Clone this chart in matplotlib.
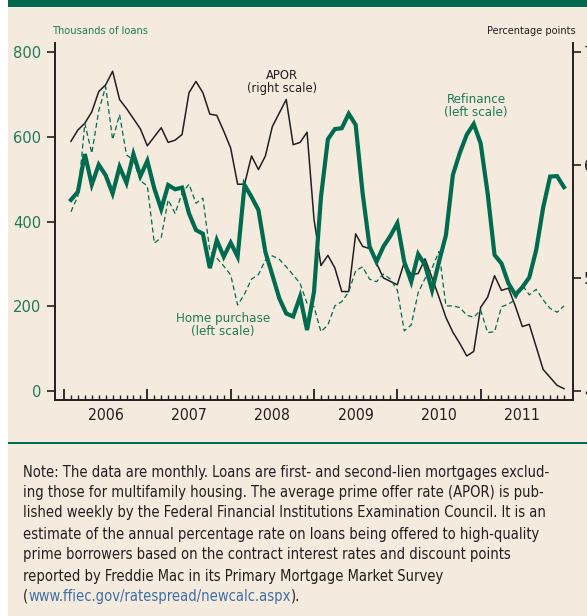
import numpy as np
import matplotlib
matplotlib.use("Agg")
import matplotlib.pyplot as plt
from matplotlib import font_manager as fm
from matplotlib.patches import Rectangle
from matplotlib.transforms import blended_transform_factory

# ---------------- data (monthly, Jan 2006 - Dec 2011) ----------------
start_year = 2006
n_months = 72

refinance = [451, 470, 559, 487, 534, 509, 466, 529, 491, 559, 507, 543,
             478, 429, 486, 476, 480, 419, 380, 371, 290, 356, 317, 350,
             317, 486, 458, 427, 328, 274, 219, 183, 176, 223, 144, 234,
             457, 594, 618, 620, 654, 628, 467, 341, 305, 341, 366, 396,
             305, 258, 323, 297, 238, 305, 368, 510, 562, 605, 630, 584,
             467, 321, 301, 254, 227, 245, 268, 333, 433, 506, 507, 481]

home_purchase = [423, 460, 631, 561, 661, 718, 593, 652, 557, 545, 496, 484,
                 349, 362, 451, 419, 467, 488, 443, 455, 330, 314, 295, 274,
                 203, 229, 264, 275, 309, 319, 311, 293, 274, 254, 207, 199,
                 140, 156, 201, 211, 234, 284, 293, 264, 258, 276, 264, 238,
                 142, 156, 232, 266, 290, 329, 201, 201, 197, 179, 174, 191,
                 138, 140, 199, 205, 216, 250, 227, 240, 215, 195, 186, 201]

apor = [6.21, 6.31, 6.37, 6.47, 6.65, 6.71, 6.83, 6.58, 6.50, 6.41, 6.32, 6.17,
        6.25, 6.33, 6.20, 6.22, 6.27, 6.64, 6.74, 6.64, 6.45, 6.44, 6.30, 6.15,
        5.83, 5.83, 6.08, 5.96, 6.08, 6.34, 6.46, 6.58, 6.18, 6.20, 6.29, 5.52,
        5.11, 5.20, 5.09, 4.88, 4.88, 5.39, 5.28, 5.26, 5.13, 5.00, 4.97, 4.94,
        5.14, 5.03, 5.04, 5.17, 5.00, 4.83, 4.65, 4.52, 4.42, 4.31, 4.35, 4.74,
        4.83, 5.02, 4.89, 4.91, 4.75, 4.57, 4.59, 4.39, 4.19, 4.12, 4.05, 4.02]

year_labels = ["2006", "2007", "2008", "2009", "2010", "2011"]
left_ticks = [0, 200, 400, 600, 800]
right_ticks = [4, 5, 6, 7]

note_lines = [
    "Note: The data are monthly. Loans are first- and second-lien mortgages exclud-",
    "ing those for multifamily housing. The average prime offer rate (APOR) is pub-",
    "lished weekly by the Federal Financial Institutions Examination Council. It is an",
    "estimate of the annual percentage rate on loans being offered to high-quality",
    "prime borrowers based on the contract interest rates and discount points",
    "reported by Freddie Mac in its Primary Mortgage Market Survey",
]
url_text = "www.ffiec.gov/ratespread/newcalc.aspx"

# ---------------- font: prefer a condensed sans if one is installed ----------------
def _is_regular(f):
    return f.style == "normal" and str(f.weight).lower() in ("400", "normal", "regular", "book")

family = None
for f in fm.fontManager.ttflist:
    if f.name == "Liberation Sans Narrow" and _is_regular(f):
        family = "Liberation Sans Narrow"
        break
if family is None:
    for f in fm.fontManager.ttflist:
        if f.name == "DejaVu Sans" and f.stretch == "condensed" and _is_regular(f):
            family = "DejaVu Sans"
            break
if family is None:
    family = "Liberation Sans"
plt.rcParams["font.family"] = [family, "Liberation Sans", "DejaVu Sans"]
plt.rcParams["font.stretch"] = "condensed"

BG = "#f4ebde"
GREEN = "#006b4f"
GREEN_TXT = "#1f7a58"
DARK = "#231f20"
BLUE = "#3f6fa6"

W, H = 587, 616
fig = plt.figure(figsize=(W / 100, H / 100), dpi=100)
fig.patch.set_facecolor("white")
renderer = fig.canvas.get_renderer()

def px(x, y):
    return x / W, 1 - y / H

def fit(t, target):
    w = t.get_window_extent(renderer).width
    t.set_fontsize(t.get_fontsize() * target / w)
    return t.get_fontsize()

# background panels
fig.add_artist(Rectangle((8 / W, 0), 1 - 8 / W, 1, transform=fig.transFigure,
                         facecolor=BG, edgecolor="none", zorder=-10))
fig.add_artist(Rectangle((8 / W, 1 - 7 / H), 1 - 8 / W, 7 / H, transform=fig.transFigure,
                         facecolor=GREEN, edgecolor="none", zorder=-9))
fig.add_artist(Rectangle((8 / W, 1 - 444 / H), 1 - 8 / W, 2.2 / H, transform=fig.transFigure,
                         facecolor=GREEN, edgecolor="none", zorder=-9))

# axes
left, right, bottom, top = 55, 573, 400, 43
ax = fig.add_axes([left / W, 1 - bottom / H, (right - left) / W, (bottom - top) / H])
ax2 = ax.twinx()
ax.set_zorder(ax2.get_zorder() + 1)
ax.patch.set_visible(False)
ax2.patch.set_visible(False)

x = start_year + np.arange(1, n_months + 1) / 12.0

ax.plot(x, home_purchase, color=GREEN, lw=0.9, dashes=(4, 2.5), zorder=2)
ax.plot(x, refinance, color=GREEN, lw=3.0, solid_joinstyle="miter", zorder=3)
ax2.plot(x, apor, color=DARK, lw=1.1, zorder=2)

ax.set_xlim(start_year - 9 / 83.3, start_year + 6 + 9 / 83.3)
ax.set_ylim(-21, 821)
ax2.set_ylim(3.92, 7.08)

for a in (ax, ax2):
    a.spines["top"].set_visible(False)
    for s in ("left", "right", "bottom"):
        a.spines[s].set_color(DARK)
        a.spines[s].set_linewidth(1.2)

# x ticks: inward, major at years, minor monthly
ax.set_xticks(np.arange(start_year, start_year + 6))
ax.set_xticks(start_year + np.arange(0, 73) / 12.0, minor=True)
ax.tick_params(axis="x", which="major", direction="in", length=8, width=1.3,
               color=DARK, labelbottom=False)
ax.tick_params(axis="x", which="minor", direction="in", length=3.5, width=1.0,
               color=DARK)
ax2.tick_params(axis="x", which="both", length=0)

ax.set_yticks(left_ticks)
ax.tick_params(axis="y", direction="out", length=6, width=1.2, color=DARK,
               labelcolor=GREEN_TXT, labelsize=13.5, pad=4.0)
ax2.set_yticks(right_ticks)
ax2.tick_params(axis="y", direction="out", length=6, width=1.2, color=DARK,
                labelcolor=DARK, labelsize=13.5, pad=2.0)

fig.canvas.draw()
lab800 = ax.get_yticklabels()[-1]
w800 = lab800.get_window_extent(renderer).width
tick_fs = min(13.5 * 28.0 / w800, 15.0)
ax.tick_params(axis="y", labelsize=tick_fs)
ax2.tick_params(axis="y", labelsize=tick_fs)

trans = blended_transform_factory(ax.transData, fig.transFigure)
ytexts = []
for i, lab in enumerate(year_labels):
    ytexts.append(ax.text(start_year + i + 0.5, 1 - 415 / H, lab, transform=trans,
                          ha="center", va="center", fontsize=13.5, color=DARK))
yfs = min(fit(ytexts[0], 36.0), 15.0)
for t in ytexts:
    t.set_fontsize(yfs)

# axis titles
fit(fig.text(*px(52, 31), "Thousands of loans", ha="left", va="center",
             fontsize=8.5, color=GREEN_TXT), 96)
fit(fig.text(*px(576, 31), "Percentage points", ha="right", va="center",
             fontsize=8.5, color=DARK), 89)

# series labels
fit(fig.text(*px(282, 82), "APOR\n(right scale)", ha="center", va="center",
             fontsize=10.5, color=DARK, linespacing=1.05), 71)
fit(fig.text(*px(476, 106), "Refinance\n(left scale)", ha="center", va="center",
             fontsize=10.5, color=GREEN_TXT, linespacing=1.05), 64)
fit(fig.text(*px(223, 325), "Home purchase\n(left scale)", ha="center", va="center",
             fontsize=10.5, color=GREEN_TXT, linespacing=1.05), 95)

# note text, fitted to reference width
probe = fig.text(0, 0, note_lines[0], fontsize=11.0)
fs = fit(probe, 525.0)
probe.remove()

line_y = [472, 492, 513, 534, 555, 576, 596]
for ln, yy in zip(note_lines, line_y):
    fig.text(*px(23, yy), ln, ha="left", va="center", fontsize=fs, color=DARK)

t1 = fig.text(*px(23, line_y[6]), "(", ha="left", va="center", fontsize=fs, color=DARK)
w1 = t1.get_window_extent(renderer).width
t2 = fig.text(*px(23 + w1, line_y[6]), url_text, ha="left", va="center",
              fontsize=fs, color=BLUE)
w2 = t2.get_window_extent(renderer).width
fig.text(*px(23 + w1 + w2, line_y[6]), ").", ha="left", va="center",
         fontsize=fs, color=DARK)

fig.savefig("out.png", dpi=100, facecolor=fig.get_facecolor())
